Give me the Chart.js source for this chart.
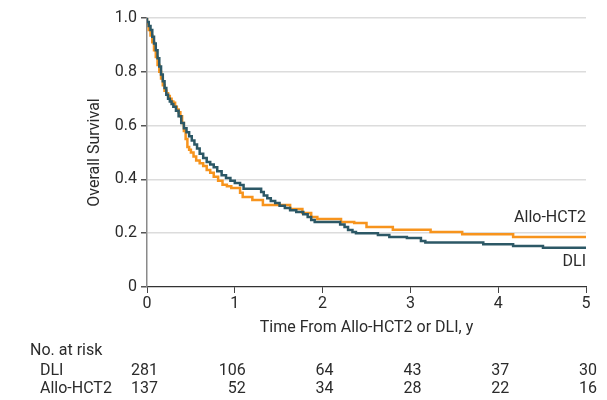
<!DOCTYPE html>
<html>
<head>
<meta charset="utf-8">
<script src="https://cdn.jsdelivr.net/npm/chart.js@4.4.1/dist/chart.umd.min.js"></script>
<style>
  html, body { margin: 0; padding: 0; background: #fff; }
  #wrap { width: 607px; height: 400px; }
</style>
</head>
<body>
<div id="wrap"><canvas id="km" width="607" height="400"></canvas></div>
<script>
// survival curves, years / proportion alive
const dliTime = [0, 0.02, 0.04, 0.06, 0.08, 0.10, 0.12, 0.14, 0.16, 0.18, 0.20, 0.22, 0.24, 0.26, 0.28, 0.30, 0.33, 0.36, 0.39, 0.42, 0.45, 0.48, 0.51, 0.54, 0.57, 0.60, 0.64, 0.68, 0.72, 0.76, 0.80, 0.85, 0.90, 0.95, 1.00, 1.06, 1.10, 1.30, 1.33, 1.37, 1.41, 1.46, 1.51, 1.57, 1.63, 1.70, 1.78, 1.83, 1.87, 1.91, 2.20, 2.25, 2.29, 2.34, 2.38, 2.63, 2.76, 2.96, 3.12, 3.17, 3.83, 4.17, 4.51, 4.73, 5.0];
const dliSurv = [1.0, 0.985, 0.97, 0.955, 0.93, 0.905, 0.88, 0.85, 0.82, 0.79, 0.765, 0.74, 0.715, 0.70, 0.69, 0.68, 0.67, 0.655, 0.635, 0.61, 0.59, 0.575, 0.56, 0.545, 0.53, 0.515, 0.495, 0.48, 0.465, 0.455, 0.445, 0.43, 0.415, 0.405, 0.395, 0.387, 0.379, 0.365, 0.353, 0.34, 0.33, 0.32, 0.312, 0.302, 0.294, 0.285, 0.279, 0.27, 0.26, 0.249, 0.242, 0.232, 0.223, 0.212, 0.204, 0.20, 0.193, 0.186, 0.182, 0.171, 0.165, 0.159, 0.152, 0.146, 0.146];

const alloTime = [0, 0.02, 0.04, 0.06, 0.08, 0.10, 0.12, 0.14, 0.16, 0.18, 0.20, 0.22, 0.24, 0.26, 0.28, 0.30, 0.32, 0.34, 0.36, 0.38, 0.40, 0.42, 0.44, 0.46, 0.48, 0.50, 0.53, 0.56, 0.60, 0.64, 0.68, 0.72, 0.76, 0.81, 0.86, 0.91, 0.96, 1.06, 1.09, 1.20, 1.32, 1.63, 1.77, 1.87, 1.94, 2.21, 2.36, 2.50, 2.80, 3.23, 3.59, 4.17, 4.90, 5.0];
const alloSurv = [1.0, 0.98, 0.955, 0.935, 0.91, 0.88, 0.855, 0.825, 0.80, 0.775, 0.75, 0.73, 0.72, 0.71, 0.70, 0.69, 0.685, 0.67, 0.66, 0.65, 0.635, 0.61, 0.58, 0.55, 0.52, 0.51, 0.50, 0.485, 0.47, 0.46, 0.45, 0.435, 0.425, 0.41, 0.395, 0.38, 0.375, 0.368, 0.35, 0.335, 0.323, 0.305, 0.29, 0.275, 0.26, 0.253, 0.242, 0.238, 0.223, 0.213, 0.204, 0.196, 0.186, 0.186];

// number at risk table
const riskTimes = [0, 1, 2, 3, 4, 5];
const riskDli = [281, 106, 64, 43, 37, 30];
const riskAllo = [137, 52, 34, 28, 22, 16];

const yTicks = [0, 0.2, 0.4, 0.6, 0.8, 1.0];

const FONT = "Roboto, 'Noto Sans', sans-serif";
const FSIZE = 16;
const TXT = '#2b2b2b';
const DLI_COL = '#2c5866';
const ALLO_COL = '#f7941d';

function pts(xs, ys) {
  return xs.map((x, i) => ({ x: x, y: ys[i] }));
}

// texts outside the plot: axis titles, risk table, curve labels
const extraText = {
  id: 'extraText',
  afterDraw(chart) {
    const c = chart.ctx;
    const xs = chart.scales.x, ys = chart.scales.y;
    c.save();
    c.fillStyle = TXT;
    c.font = FSIZE + 'px ' + FONT;
    c.textBaseline = 'middle';

    // y title
    c.save();
    c.translate(95, (ys.top + ys.bottom) / 2);
    c.rotate(-Math.PI / 2);
    c.textAlign = 'center';
    c.fillText('Overall Survival', 0, 0);
    c.restore();

    // x title
    c.textAlign = 'center';
    c.fillText('Time From Allo-HCT2 or DLI, y', (xs.left + xs.right) / 2, 328);

    // curve labels
    c.textAlign = 'right';
    c.fillText('Allo-HCT2', xs.getPixelForValue(5), ys.getPixelForValue(0.255));
    c.fillText('DLI', xs.getPixelForValue(5), ys.getPixelForValue(0.093));

    // risk table
    c.textAlign = 'left';
    c.fillText('No. at risk', 30, 351);
    c.fillText('DLI', 40, 371);
    c.fillText('Allo-HCT2', 40, 389);
    c.textAlign = 'right';
    riskTimes.forEach((t, i) => {
      let px = xs.getPixelForValue(t) + 11;
      c.fillText(String(riskDli[i]), px, 371);
      c.fillText(String(riskAllo[i]), px, 389);
    });
    c.restore();
  }
};

new Chart(document.getElementById('km'), {
  type: 'line',
  data: {
    datasets: [
      {
        label: 'DLI',
        data: pts(dliTime, dliSurv),
        borderColor: DLI_COL,
        borderWidth: 2.5,
        stepped: 'after',
        pointRadius: 0,
        fill: false
      },
      {
        label: 'Allo-HCT2',
        data: pts(alloTime, alloSurv),
        borderColor: ALLO_COL,
        borderWidth: 2.5,
        stepped: 'after',
        pointRadius: 0,
        fill: false
      }
    ]
  },
  options: {
    responsive: false,
    animation: false,
    devicePixelRatio: 1,
    layout: { padding: { left: 0, top: 18, right: 21, bottom: 0 } },
    plugins: {
      legend: { display: false },
      tooltip: { enabled: false }
    },
    scales: {
      x: {
        type: 'linear',
        min: 0,
        max: 5,
        afterFit: (s) => { s.height = 113; },
        ticks: {
          stepSize: 1,
          padding: 1,
          color: TXT,
          font: { family: FONT, size: FSIZE }
        },
        grid: {
          drawOnChartArea: false,
          tickLength: 6,
          tickColor: '#444'
        },
        border: { color: '#333', width: 1.2 }
      },
      y: {
        min: 0,
        max: 1,
        afterFit: (s) => { s.width = 147; },
        afterBuildTicks: (s) => { s.ticks = yTicks.map(v => ({ value: v })); },
        ticks: {
          padding: 4,
          color: TXT,
          font: { family: FONT, size: FSIZE },
          callback: (v) => (v === 0 ? '0' : v.toFixed(1))
        },
        grid: {
          color: (ctx) => (ctx.tick && ctx.tick.value === 0 ? 'rgba(0,0,0,0)' : '#dcdcdc'),
          tickColor: '#555',
          tickLength: 6,
          lineWidth: 1.5
        },
        border: { color: '#8a8a8a', width: 1.5 }
      }
    }
  },
  plugins: [extraText]
});
</script>
</body>
</html>
